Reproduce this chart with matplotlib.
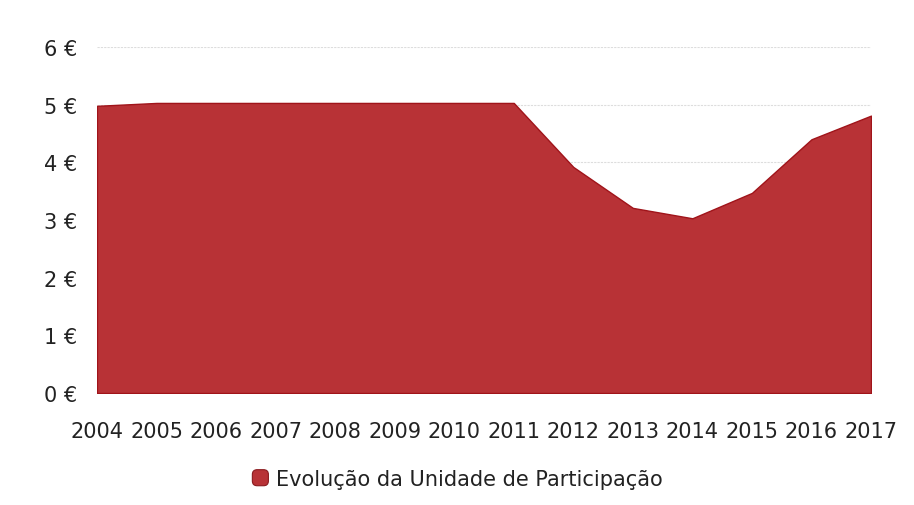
import matplotlib.pyplot as plt
from matplotlib.patches import FancyBboxPatch
from matplotlib.legend_handler import HandlerPatch

years = [2004, 2005, 2006, 2007, 2008, 2009, 2010, 2011, 2012, 2013, 2014, 2015, 2016, 2017]
values = [4.98, 5.03, 5.03, 5.03, 5.03, 5.03, 5.03, 5.03, 3.92, 3.21, 3.03, 3.47, 4.40, 4.81]
y_ticks = [0, 1, 2, 3, 4, 5, 6]
y_labels = ["{} €".format(v) for v in y_ticks]
series_name = "Evolução da Unidade de Participação"

fill_color = "#b83236"

plt.rcParams['font.family'] = ['DejaVu Sans']

fig = plt.figure(figsize=(9.14, 5.06), dpi=100)
ax = fig.add_axes([97 / 914, 112 / 506, 774 / 914, 346 / 506])

ax.fill_between(years, values, 0, color=fill_color, edgecolor="#a0141a", linewidth=1.0,
                label=series_name, zorder=2)

ax.set_xlim(years[0], years[-1])
ax.set_ylim(0, 6)
ax.set_yticks(y_ticks)
ax.set_yticklabels(y_labels)
ax.set_xticks(years)
ax.set_xticklabels([str(y) for y in years])
ax.tick_params(axis='both', length=0, labelsize=15, colors="#222222")
ax.tick_params(axis='y', pad=14)
ax.tick_params(axis='x', pad=20)

ax.grid(axis='y', color="#dddddd", linestyle=(0, (2, 1)), linewidth=0.8, zorder=0)
for s in ax.spines.values():
    s.set_visible(False)


class RoundSquare(HandlerPatch):
    def create_artists(self, legend, orig_handle, xdescent, ydescent, width, height, fontsize, trans):
        size = height * 1.1
        p = FancyBboxPatch((xdescent + width - size, -ydescent - 0.05 * height), size, size,
                           boxstyle="round,pad=0,rounding_size={}".format(size * 0.3),
                           facecolor=fill_color, edgecolor="#8a1a1e", linewidth=0.8, transform=trans)
        return [p]


handles, labels = ax.get_legend_handles_labels()
fig.legend(handles, labels, loc='center', bbox_to_anchor=(455 / 914, 1 - 480 / 506),
           frameon=False, fontsize=15, handler_map={handles[0]: RoundSquare()},
           handlelength=1.0, handletextpad=0.35, labelcolor="#222222")

fig.savefig("out.png", dpi=100)
